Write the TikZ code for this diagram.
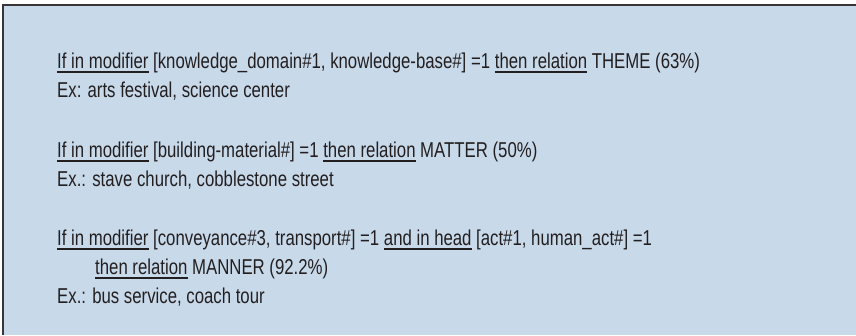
\documentclass[tikz,border=0pt]{standalone}
\usepackage{fontspec}
\setmainfont{Liberation Sans}[FakeStretch=0.78]
\definecolor{panel}{RGB}{200,217,234}
\definecolor{ink}{RGB}{35,31,32}
\newcommand\ulx[1]{\leavevmode\setbox0\hbox{#1}\rlap{\color{ink}\rule[-4.5pt]{\wd0}{1.6pt}}\box0\relax}
\begin{document}
\begin{tikzpicture}[x=1pt,y=-1pt,
  txt/.style={anchor=base west, inner sep=0pt, font=\fontsize{21.5}{26}\selectfont, text=ink}]
\useasboundingbox (0,0) rectangle (856,335);
\fill[panel] (3,5) rectangle (856,335);
\draw[ink!90, line width=2pt] (3,335) -- (3,5) -- (856,5);
\node[txt] (l1) at (57,68) {\ulx{If in modifier} [knowledge\_domain\#1, knowledge-base\#] =1 \ulx{then relation} THEME (63\%)};
\node[txt] (l2) at (57,97) {Ex: arts festival, science center};
\node[txt] (l3) at (57,157) {\ulx{If in modifier} [building-material\#] =1 \ulx{then relation} MATTER (50\%)};
\node[txt] (l4) at (57,186) {Ex.: stave church, cobblestone street};
\node[txt] (l5) at (57,245) {\ulx{If in modifier} [conveyance\#3, transport\#] =1 \ulx{and in head} [act\#1, human\_act\#] =1};
\node[txt] (l6) at (95,274) {\ulx{then relation} MANNER (92.2\%)};
\node[txt] (l7) at (57,303) {Ex.: bus service, coach tour};
\end{tikzpicture}
\end{document}
